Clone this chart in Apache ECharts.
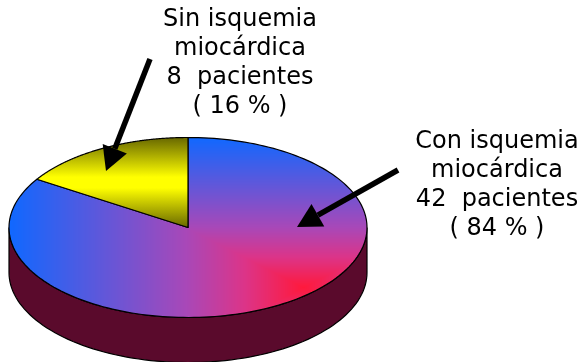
<!DOCTYPE html>
<html>
<head>
<meta charset="utf-8">
<title>Isquemia miocárdica</title>
<style>
html, body { margin: 0; padding: 0; background: #fff; }
#main { width: 583px; height: 362px; }
</style>
<script src="https://cdn.jsdelivr.net/npm/echarts@6/dist/echarts.min.js"></script>
</head>
<body>
<div id="main"></div>
<script>
var categories = ['Con isquemia', 'Sin isquemia'];
var patients = [42, 8];
var percents = [84, 16];

// geometria del disco
var cx = 188, cy = 227.5, rx = 179, ry = 90, depth = 45;

// degradado rectangular de la porcion grande (foco rojo abajo a la derecha)
function makeRectGradient() {
    var canvas = document.createElement('canvas');
    canvas.width = 583;
    canvas.height = 362;
    var ctx = canvas.getContext('2d');
    var img = ctx.createImageData(583, 362);
    var stops = [
        [0, 255, 25, 60],
        [0.2, 220, 52, 136],
        [0.4, 168, 72, 184],
        [1, 16, 104, 255]
    ];
    for (var y = 0; y < 362; y++) {
        for (var x = 0; x < 583; x++) {
            var t = Math.min(1, Math.max(Math.abs(x - 303) / 294, Math.abs(y - 287) / 150));
            var s = 0;
            while (s < stops.length - 2 && t > stops[s + 1][0]) {
                s++;
            }
            var f = (t - stops[s][0]) / (stops[s + 1][0] - stops[s][0]);
            var p = (y * 583 + x) * 4;
            img.data[p] = stops[s][1] + (stops[s + 1][1] - stops[s][1]) * f;
            img.data[p + 1] = stops[s][2] + (stops[s + 1][2] - stops[s][2]) * f;
            img.data[p + 2] = stops[s][3] + (stops[s + 1][3] - stops[s][3]) * f;
            img.data[p + 3] = 255;
        }
    }
    ctx.putImageData(img, 0, 0);
    return canvas;
}

var bigFill = { image: makeRectGradient(), repeat: 'repeat' };

var smallFill = new echarts.graphic.LinearGradient(0, 137, 0, 228, [
    { offset: 0, color: '#666600' },
    { offset: 0.44, color: '#ffff00' },
    { offset: 0.56, color: '#ffff00' },
    { offset: 1, color: '#666600' }
], true);

var total = patients[0] + patients[1];

function renderSlice(params, api) {
    var before = 0;
    for (var i = 0; i < params.dataIndex; i++) {
        before += patients[i];
    }
    var start = -Math.PI / 2 + before / total * Math.PI * 2;
    var sweep = api.value(0) / total * Math.PI * 2;
    var points = [[cx, cy]];
    for (var k = 0; k <= 180; k++) {
        var a = start + sweep * k / 180;
        points.push([cx + rx * Math.cos(a), cy + ry * Math.sin(a)]);
    }
    return {
        type: 'polygon',
        shape: { points: points },
        style: {
            fill: params.dataIndex === 0 ? bigFill : smallFill,
            stroke: '#000',
            lineWidth: 1.2,
            lineJoin: 'round'
        }
    };
}

function renderWall() {
    var points = [];
    var i, a;
    for (i = 0; i <= 90; i++) {
        a = Math.PI * i / 90;
        points.push([cx + rx * Math.cos(a), cy + ry * Math.sin(a)]);
    }
    for (i = 90; i >= 0; i--) {
        a = Math.PI * i / 90;
        points.push([cx + rx * Math.cos(a), cy + depth + ry * Math.sin(a)]);
    }
    return {
        type: 'polygon',
        shape: { points: points },
        style: { fill: '#5a0a2c', stroke: '#000', lineWidth: 1.2 }
    };
}

// flecha: linea mas punta triangular
function arrow(x1, y1, x2, y2, headLen, headWidth) {
    var len = Math.sqrt((x2 - x1) * (x2 - x1) + (y2 - y1) * (y2 - y1));
    var ux = (x2 - x1) / len, uy = (y2 - y1) / len;
    var bx = x2 - ux * headLen, by = y2 - uy * headLen;
    return [{
        type: 'line',
        z: 10,
        shape: { x1: x1, y1: y1, x2: bx, y2: by },
        style: { stroke: '#000', lineWidth: 5.5 }
    }, {
        type: 'polygon',
        z: 10,
        shape: {
            points: [
                [x2, y2],
                [bx - uy * headWidth / 2, by + ux * headWidth / 2],
                [bx + uy * headWidth / 2, by - ux * headWidth / 2]
            ]
        },
        style: { fill: '#000' }
    }];
}

function label(x, y, text) {
    return {
        type: 'text',
        z: 10,
        x: x,
        y: y,
        style: {
            text: text,
            fill: '#000',
            font: '24px "DejaVu Sans"',
            align: 'center',
            verticalAlign: 'middle'
        }
    };
}

function labelLines(i) {
    return [
        categories[i],
        'miocárdica',
        patients[i] + '  pacientes',
        '( ' + percents[i] + ' % )'
    ];
}

var elements = [];
elements = elements.concat(arrow(150, 59, 106, 171, 24, 26));
elements = elements.concat(arrow(398, 170, 297, 227, 24, 26));

var topLines = labelLines(1);
var topY = [20, 49, 78, 107];
var rightLines = labelLines(0);
var rightY = [142, 171, 200, 229];
for (var i = 0; i < 4; i++) {
    elements.push(label(240, topY[i], topLines[i]));
    elements.push(label(497, rightY[i], rightLines[i]));
}

var chart = echarts.init(document.getElementById('main'));
chart.setOption({
    animation: false,
    series: [{
        type: 'custom',
        coordinateSystem: 'none',
        silent: true,
        z: 1,
        data: [[1]],
        renderItem: renderWall
    }, {
        type: 'custom',
        coordinateSystem: 'none',
        silent: true,
        z: 2,
        data: [[patients[0]], [patients[1]]],
        renderItem: renderSlice
    }],
    graphic: { elements: elements }
});
</script>
</body>
</html>
